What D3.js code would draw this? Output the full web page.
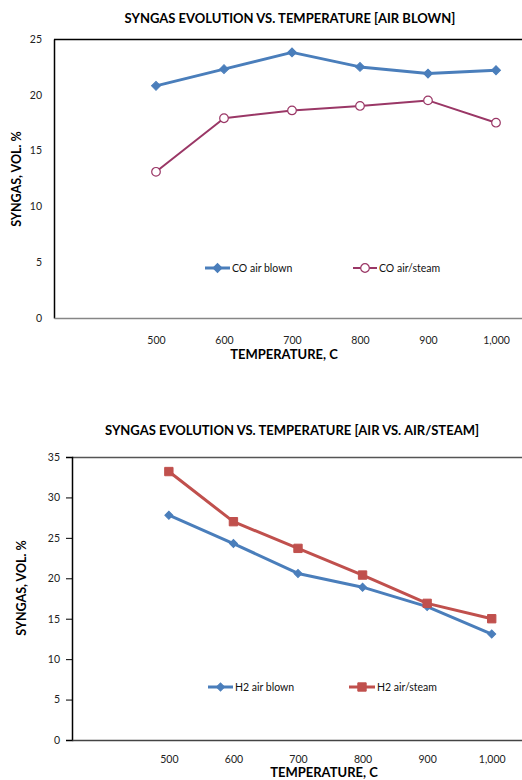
<!DOCTYPE html>
<html>
<head>
<meta charset="utf-8">
<script src="https://cdn.jsdelivr.net/npm/d3@7"></script>
<style>
  html, body { margin: 0; padding: 0; background: #fff; }
  svg { display: block; font-family: Lato, "Liberation Sans", sans-serif; }
</style>
</head>
<body>
<svg id="chart" width="522" height="780"></svg>
<script>
// Temperatures (°C) shared by both panels
const temperatures = [500, 600, 700, 800, 900, 1000];

// Panel 1: CO content, vol. %
const coAirBlown = [20.8, 22.3, 23.8, 22.5, 21.9, 22.2];
const coAirSteam = [13.1, 17.9, 18.6, 19.0, 19.5, 17.5];

// Panel 2: H2 content, vol. %
const h2AirBlown = [27.8, 24.3, 20.6, 18.9, 16.5, 13.1];
const h2AirSteam = [33.2, 27.0, 23.7, 20.4, 16.9, 15.0];

const yTicksTop = [0, 5, 10, 15, 20, 25];
const yTicksBottom = [0, 5, 10, 15, 20, 25, 30, 35];

const BLUE = "#4A7EBB", PURPLE = "#9A3766", RED = "#C0504D";

const svg = d3.select("#chart");
const fmt = d3.format(",");

function panel(cfg) {
  const g = svg.append("g");
  const x = d3.scaleLinear().domain([350, 1050]).range([cfg.left, cfg.right]);
  const y = d3.scaleLinear().domain([0, cfg.yMax]).range([cfg.bottom, cfg.top]);

  // title
  g.append("text")
    .attr("x", cfg.titleX).attr("y", cfg.titleY)
    .attr("text-anchor", "middle")
    .attr("font-weight", "bold").attr("font-size", 13)
    .attr("fill", "#000")
    .text(cfg.title);

  // plot frame (top edge)
  g.append("line")
    .attr("x1", cfg.left).attr("x2", cfg.right)
    .attr("y1", cfg.top + 0.5).attr("y2", cfg.top + 0.5)
    .attr("stroke", cfg.frameColor).attr("stroke-width", 1.5);

  // y axis
  const yAxis = d3.axisLeft(y).tickValues(cfg.yTicks)
    .tickSize(cfg.yTickSize).tickPadding(cfg.yTickPad).tickFormat(d3.format("d"));
  const ya = g.append("g").attr("transform", `translate(${cfg.left},0)`).call(yAxis);
  ya.select(".domain").attr("stroke", "#000").attr("stroke-width", 1.5);
  ya.selectAll(".tick line").attr("stroke", "#000");
  ya.selectAll(".tick text").attr("font-size", 10.5).attr("fill", "#222")
    .attr("font-family", "Lato, sans-serif");

  // x axis (category-like temperature labels, no tick marks)
  const xAxis = d3.axisBottom(x).tickValues(temperatures)
    .tickSize(0).tickPadding(cfg.xTickPad).tickFormat(fmt);
  const xa = g.append("g").attr("transform", `translate(0,${cfg.bottom})`).call(xAxis);
  xa.select(".domain").attr("stroke", cfg.xAxisColor).attr("stroke-width", 1.5);
  xa.selectAll(".tick text").attr("font-size", 10.5).attr("fill", "#222")
    .attr("font-family", "Lato, sans-serif");

  // axis titles
  g.append("text")
    .attr("x", cfg.xTitleX).attr("y", cfg.xTitleY)
    .attr("text-anchor", "middle")
    .attr("font-weight", "bold").attr("font-size", 13)
    .text("TEMPERATURE, C");
  g.append("text")
    .attr("transform", `translate(${cfg.yTitleX},${cfg.yTitleY}) rotate(-90)`)
    .attr("text-anchor", "middle")
    .attr("font-weight", "bold").attr("font-size", 12.5)
    .text("SYNGAS, VOL. %");

  const line = d3.line().x((d, i) => x(temperatures[i])).y(d => y(d));

  cfg.series.forEach(s => {
    g.append("path").datum(s.values)
      .attr("d", line).attr("fill", "none")
      .attr("stroke", s.color).attr("stroke-width", s.width)
      .attr("stroke-linejoin", "round");
    g.selectAll(null).data(s.values).enter().append("path")
      .attr("transform", (d, i) => `translate(${x(temperatures[i])},${y(d)})` + (s.rotate ? " rotate(45)" : ""))
      .attr("d", d3.symbol().type(s.symbol).size(s.size)())
      .attr("fill", s.fill).attr("stroke", s.color).attr("stroke-width", s.markerStroke);
  });

  // legend
  cfg.series.forEach((s, i) => {
    const lg = cfg.legend[i];
    g.append("line")
      .attr("x1", lg.x1).attr("x2", lg.x2).attr("y1", cfg.legendY).attr("y2", cfg.legendY)
      .attr("stroke", s.color).attr("stroke-width", s.width);
    g.append("path")
      .attr("transform", `translate(${(lg.x1 + lg.x2) / 2},${cfg.legendY})` + (s.rotate ? " rotate(45)" : ""))
      .attr("d", d3.symbol().type(s.symbol).size(s.size)())
      .attr("fill", s.fill).attr("stroke", s.color).attr("stroke-width", s.markerStroke);
    g.append("text")
      .attr("x", lg.x2 + 2).attr("y", cfg.legendY).attr("dy", "0.35em")
      .attr("font-size", 10.5).attr("fill", "#111")
      .text(s.name);
  });
}

panel({
  title: "SYNGAS EVOLUTION VS. TEMPERATURE [AIR BLOWN]",
  titleX: 290, titleY: 23,
  left: 54, right: 530, top: 39, bottom: 318, yMax: 25,
  yTicks: yTicksTop, yTickSize: 0, yTickPad: 12, xTickPad: 19,
  frameColor: "#000", xAxisColor: "#868686",
  xTitleX: 284, xTitleY: 359, yTitleX: 21, yTitleY: 179,
  legendY: 268,
  legend: [{ x1: 205, x2: 230 }, { x1: 353, x2: 377 }],
  series: [
    { name: "CO air blown", values: coAirBlown, color: BLUE, width: 3, symbol: d3.symbolSquare, rotate: true, size: 40, fill: BLUE, markerStroke: 1 },
    { name: "CO air/steam", values: coAirSteam, color: PURPLE, width: 2, symbol: d3.symbolCircle, rotate: false, size: 58, fill: "#fff", markerStroke: 1.2 }
  ]
});

panel({
  title: "SYNGAS EVOLUTION VS. TEMPERATURE [AIR VS. AIR/STEAM]",
  titleX: 292, titleY: 435,
  left: 72, right: 524, top: 457, bottom: 740, yMax: 35,
  yTicks: yTicksBottom, yTickSize: 6, yTickPad: 6, xTickPad: 16,
  frameColor: "#555", xAxisColor: "#444",
  xTitleX: 324, xTitleY: 777, yTitleX: 26, yTitleY: 588,
  legendY: 687,
  legend: [{ x1: 208, x2: 233 }, { x1: 349, x2: 375 }],
  series: [
    { name: "H2 air blown", values: h2AirBlown, color: BLUE, width: 3, symbol: d3.symbolSquare, rotate: true, size: 32, fill: BLUE, markerStroke: 1 },
    { name: "H2 air/steam", values: h2AirSteam, color: RED, width: 3, symbol: d3.symbolSquare, rotate: false, size: 70, fill: RED, markerStroke: 1 }
  ]
});
</script>
</body>
</html>
